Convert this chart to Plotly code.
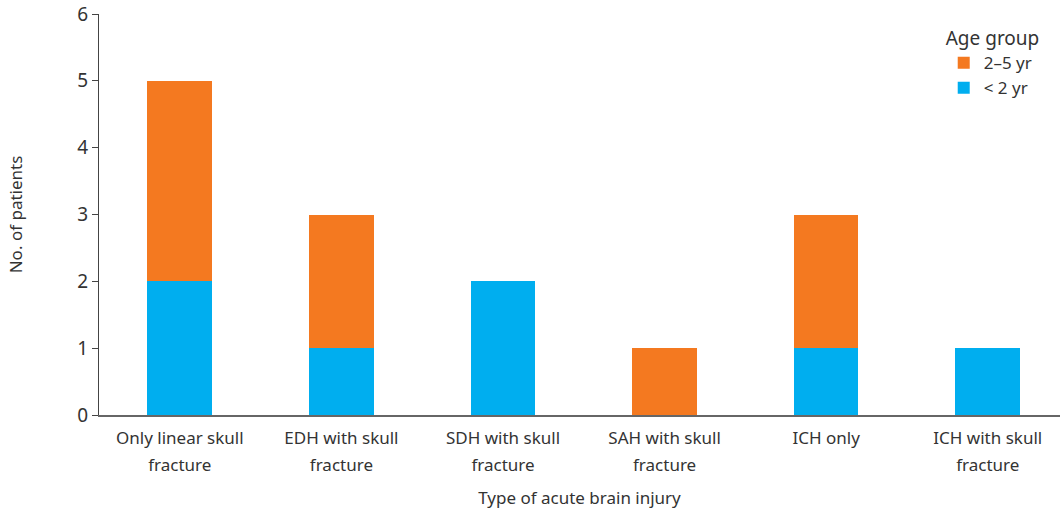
import plotly.graph_objects as go

categories = ["Only linear skull<br>fracture", "EDH with skull<br>fracture", "SDH with skull<br>fracture",
              "SAH with skull<br>fracture", "ICH only", "ICH with skull<br>fracture"]
under2 = [2, 1, 2, 0, 1, 1]
age2to5 = [3, 2, 0, 1, 2, 0]
yticks = [0, 1, 2, 3, 4, 5, 6]

font_family = "Noto Sans, Open Sans, sans-serif"
fig = go.Figure()
fig.add_trace(go.Bar(x=categories, y=under2, name="&lt; 2 yr", marker_color="#00AEEF",
                     marker_line_width=0, width=0.4))
fig.add_trace(go.Bar(x=categories, y=age2to5, name="2–5 yr", marker_color="#F47920",
                     marker_line_width=0, width=0.4))

ticktext = ["<span style='font-size:17px'>" + c.replace("<br>", "</span><br><span style='font-size:17px'>") + "</span>"
            for c in categories]

fig.update_layout(
    width=1060, height=512,
    barmode="stack",
    plot_bgcolor="white", paper_bgcolor="white",
    margin=dict(l=99, r=0, t=14, b=97, autoexpand=False),
    font=dict(family=font_family, size=16, color="#333333"),
    showlegend=True,
    legend=dict(title=dict(text="Age group", font=dict(size=19)), x=0.879, y=0.984,
                xanchor="left", yanchor="top", traceorder="reversed",
                font=dict(size=17), itemwidth=30, tracegroupgap=0, bgcolor="rgba(0,0,0,0)"),
    xaxis=dict(range=[-0.5, 5.447], showline=True, linecolor="#666666", linewidth=1.5,
               tickmode="array", tickvals=categories, ticktext=ticktext,
               ticks="", showgrid=False, zeroline=False, tickfont=dict(size=21), automargin=False,
               ticklabelstandoff=2,
               title=dict(text="Type of acute brain injury", font=dict(size=17), standoff=17)),
    yaxis=dict(range=[0, 6], tickvals=yticks, showline=True, linecolor="#444444", linewidth=1,
               ticks="outside", ticklen=6, tickcolor="#444444", showgrid=False, zeroline=False,
               tickfont=dict(size=19), automargin=False,
               title=dict(text="No. of patients", font=dict(size=17), standoff=50)),
)
fig.write_html("out.html", config={"displayModeBar": False},
               post_script="document.body.style.margin='0';")
